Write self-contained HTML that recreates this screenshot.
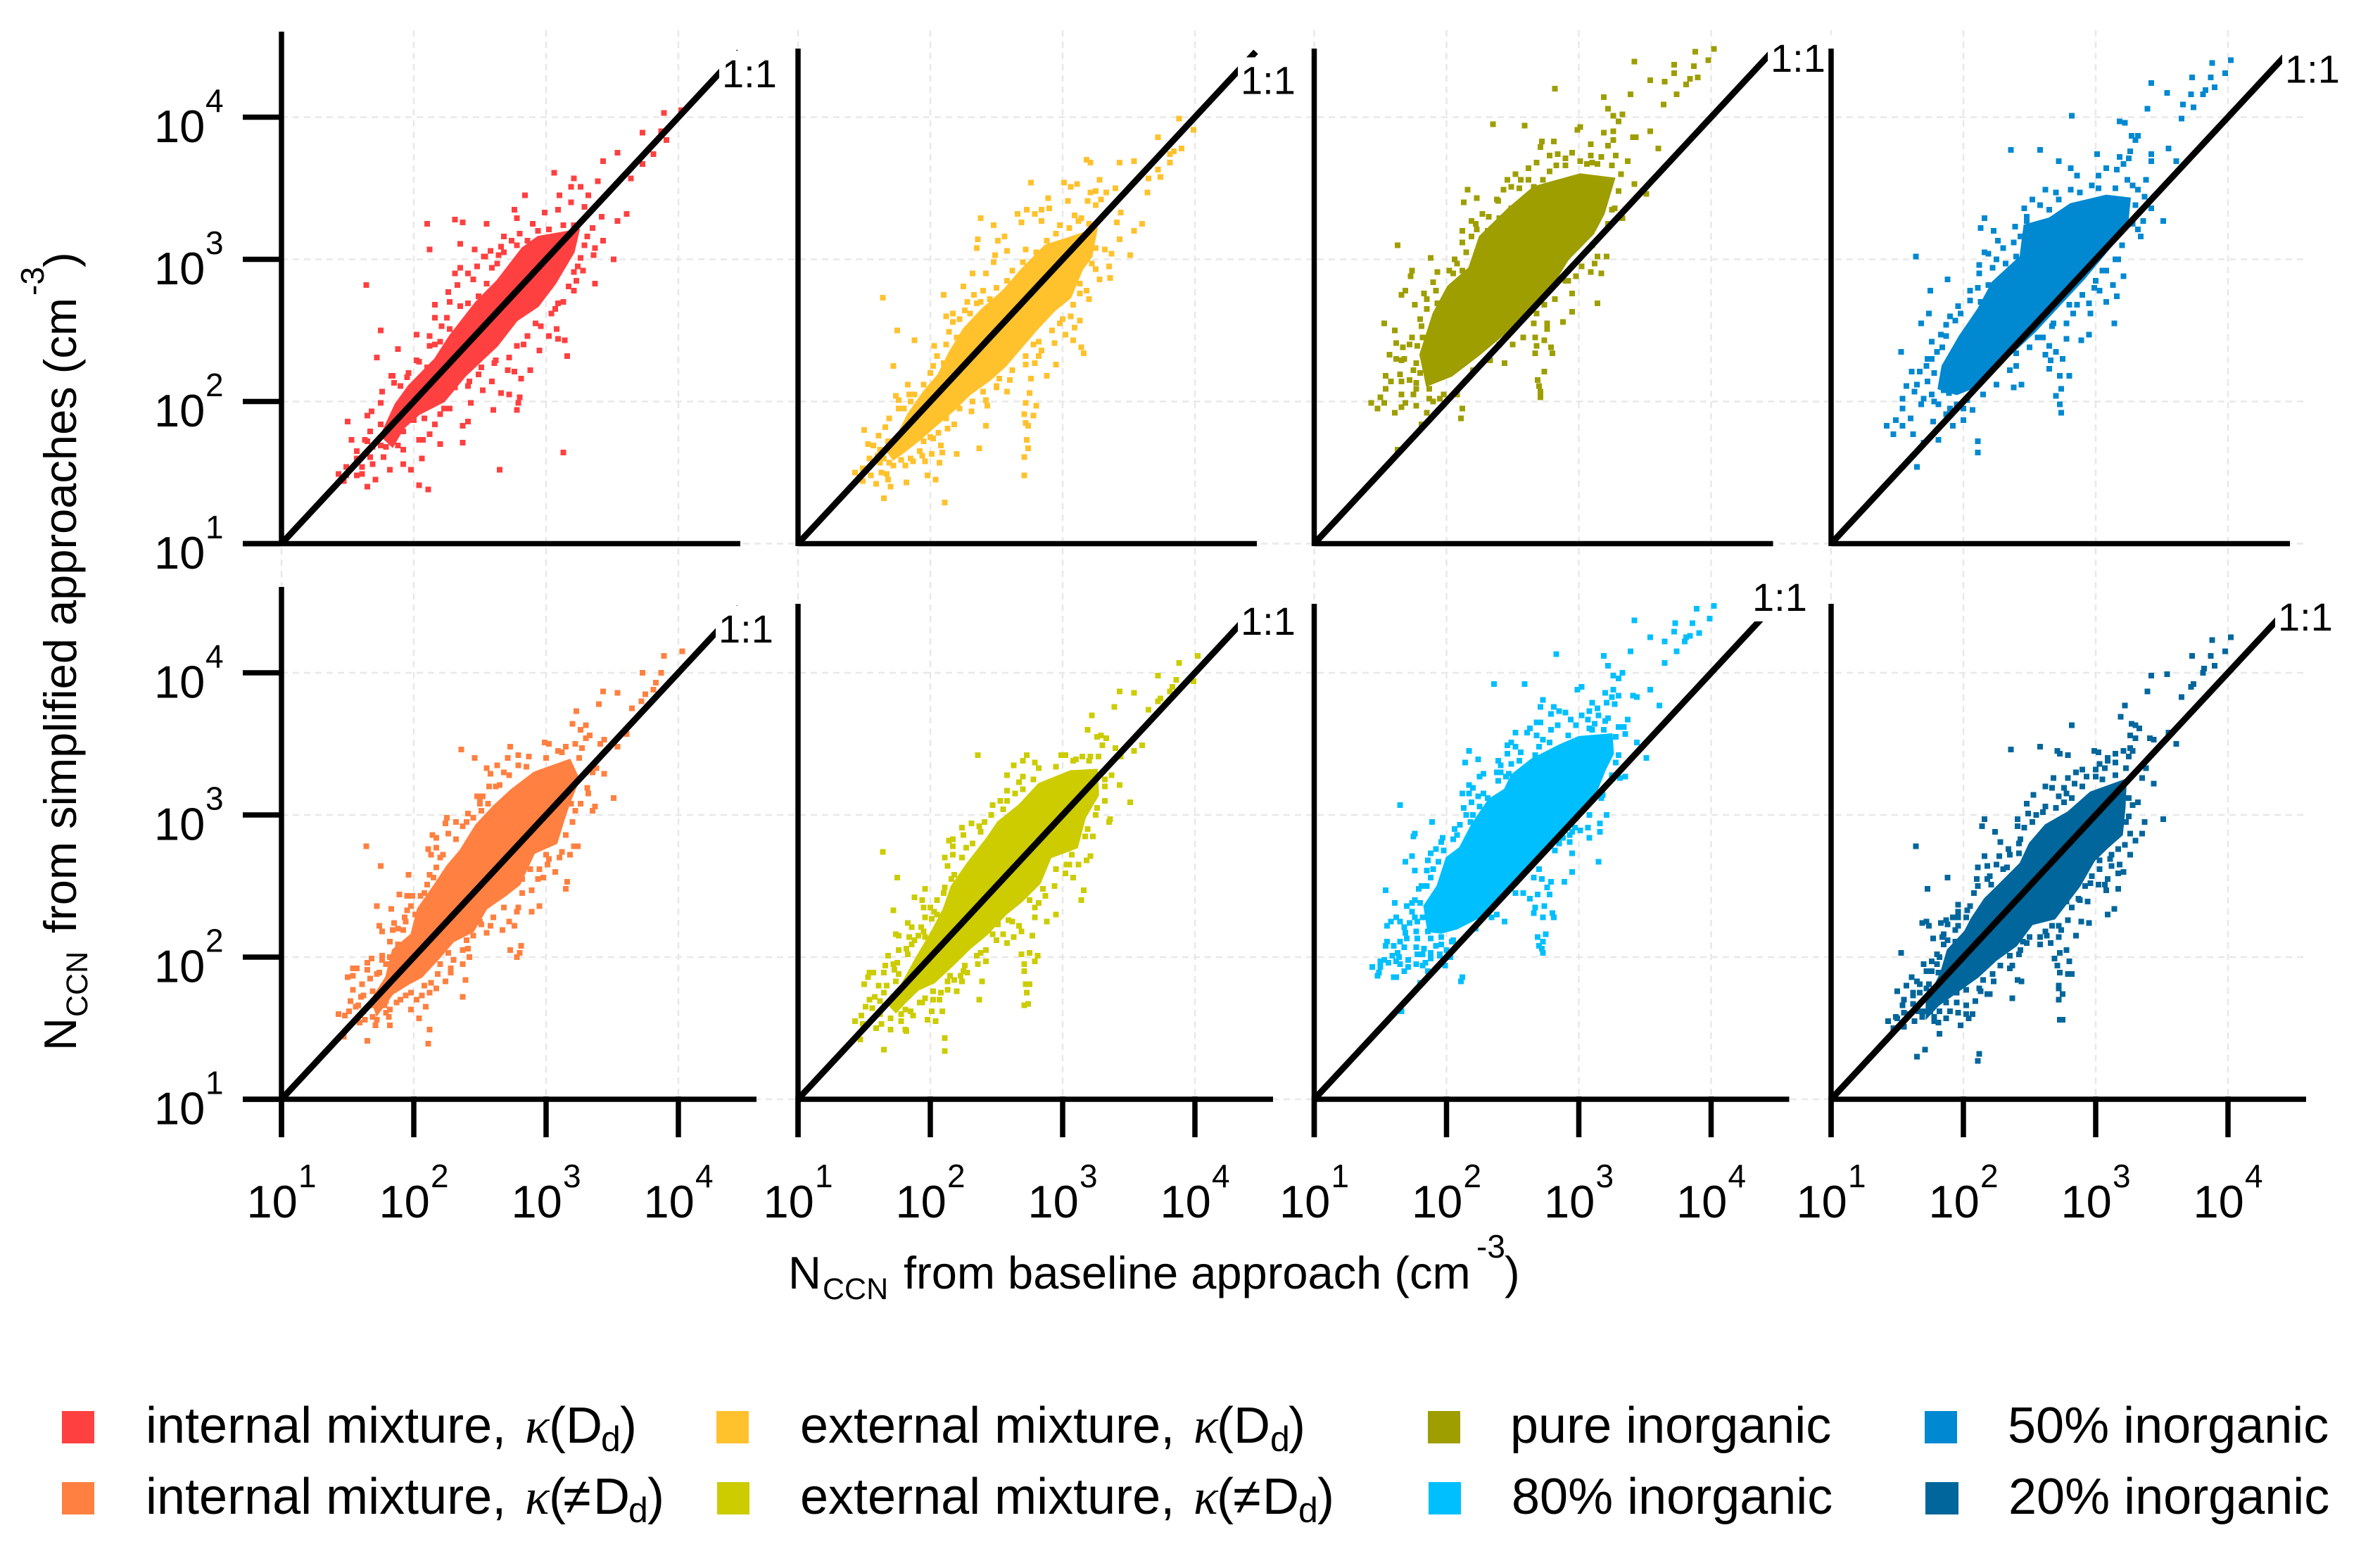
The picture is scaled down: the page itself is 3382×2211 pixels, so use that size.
<!DOCTYPE html>
<html lang="en">
<head>
<meta charset="utf-8">
<title>NCCN scatter comparison</title>
<style>
html,body{margin:0;padding:0;background:#fff}
svg{display:block}
text{font-family:"Liberation Sans",sans-serif;fill:#000}
.k{font-family:"Liberation Serif",serif;font-style:italic}
.t{font-size:65px}.s{font-size:43px}.u{font-size:46px}
.l{font-size:72px}.d{font-size:50px}
</style>
</head>
<body>
<svg id="chart" xmlns="http://www.w3.org/2000/svg" width="3382" height="2211" viewBox="0 0 3382 2211">
<rect width="3382" height="2211" fill="#fff"/>
<g id="grid"></g>
<g id="marks"></g>
<g id="axes"></g>
<g id="labels"></g>

<g>
<text class="t" x="1120" y="1831">N</text>
<text class="s" x="1169" y="1846">CCN</text>
<text class="t" x="1284" y="1831">from baseline approach (cm</text>
<text class="u" x="2098" y="1787">-3</text>
<text class="t" x="2138" y="1831">)</text>
</g>
<g transform="translate(108,1493) rotate(-90)">
<text class="t" x="0" y="0">N</text>
<text class="s" x="48" y="16">CCN</text>
<text class="t" x="167" y="0">from simplified approaches (cm</text>
<text class="u" x="1073" y="-46">-3</text>
<text class="t" x="1113" y="0">)</text>
</g>

<g>
<g>
<rect x="88" y="2005" width="46" height="46" fill="#FF4040"/>
<text class="l" x="207" y="2050">internal mixture,</text><text class="k" font-size="72" x="746" y="2050">κ</text>
<text class="l" x="780" y="2050">(D</text><text class="d" x="854" y="2062">d</text><text class="l" x="881" y="2050">)</text>
</g>
<g>
<rect x="88" y="2106" width="46" height="46" fill="#FF8040"/>
<text class="l" x="207" y="2151">internal mixture,</text><text class="k" font-size="72" x="746" y="2151">κ</text>
<text class="l" x="780" y="2151">(</text><text class="l" x="800" y="2151">≠</text><text class="l" x="843" y="2151">D</text><text class="d" x="893" y="2163">d</text><text class="l" x="920" y="2151">)</text>
</g>
<g>
<rect x="1018" y="2005" width="46" height="46" fill="#FFC22D"/>
<text class="l" x="1137" y="2050">external mixture,</text><text class="k" font-size="72" x="1696" y="2050">κ</text>
<text class="l" x="1729" y="2050">(D</text><text class="d" x="1805" y="2062">d</text><text class="l" x="1831" y="2050">)</text>
</g>
<g>
<rect x="1019" y="2106" width="46" height="46" fill="#CCCC00"/>
<text class="l" x="1137" y="2151">external mixture,</text><text class="k" font-size="72" x="1696" y="2151">κ</text>
<text class="l" x="1729" y="2151">(</text><text class="l" x="1752" y="2151">≠</text><text class="l" x="1794" y="2151">D</text><text class="d" x="1845" y="2163">d</text><text class="l" x="1872" y="2151">)</text>
</g>
<g>
<rect x="2029" y="2005" width="46" height="46" fill="#9E9E00"/>
<text class="l" x="2146" y="2050">pure inorganic</text>
</g>
<g>
<rect x="2030" y="2106" width="46" height="46" fill="#00BFFF"/>
<text class="l" x="2148" y="2151">80% inorganic</text>
</g>
<g>
<rect x="2735" y="2005" width="46" height="46" fill="#0088D1"/>
<text class="l" x="2853" y="2050">50% inorganic</text>
</g>
<g>
<rect x="2736" y="2106" width="47" height="46" fill="#00669C"/>
<text class="l" x="2854" y="2151">20% inorganic</text>
</g>
</g>
</svg>

<script>
// All values are log10(NCCN): [baseline, simplified]
const tickExponents = [1, 2, 3, 4];
const oneToOne = [1, 4.46];

const coreInternalDd = [[1.75,1.76],[1.86,1.98],[1.96,2.11],[2.16,2.30],[2.27,2.46],[2.47,2.70],[2.63,2.85],[2.82,3.08],[2.94,3.16],[3.25,3.21],[3.21,3.05],[3.07,2.83],[2.94,2.67],[2.78,2.57],[2.63,2.39],[2.39,2.18],[2.23,2.0],[2.04,1.91],[1.92,1.81],[1.84,1.68]];
const pointsInternalDd = [[4.02,4.05],[3.89,4.03],[3.73,3.89],[3.87,3.90],[3.91,3.84],[3.81,3.74],[3.54,3.75],[3.43,3.69],[3.73,3.67],[3.06,3.61],[3.64,3.57],[3.39,3.55],[3.21,3.57],[3.19,3.51],[3.26,3.51],[3.32,3.45],[2.84,3.45],[3.10,3.45],[3.19,3.40],[3.29,3.37],[3.61,3.32],[3.54,3.27],[3.42,3.30],[2.76,3.35],[2.99,3.33],[3.09,3.35],[2.10,3.25],[2.31,3.28],[2.37,3.26],[2.55,3.25],[2.78,3.29],[2.90,3.25],[3.35,3.22],[3.43,3.13],[3.37,3.08],[3.51,3.0],[3.36,3.03],[3.31,3.16],[2.80,3.18],[2.68,3.16],[2.78,3.10],[2.35,3.11],[2.12,3.07],[2.66,3.09],[2.46,3.07],[2.58,3.06],[2.64,3.03],[2.54,3.02],[2.48,2.95],[2.35,2.94],[3.26,3.01],[3.24,2.95],[3.28,2.92],[2.41,2.90],[2.31,2.90],[3.23,2.85],[3.37,2.83],[1.64,2.82],[2.33,2.82],[2.26,2.77],[3.21,2.78],[3.13,2.70],[2.16,2.68],[2.27,2.70],[3.07,2.65],[2.16,2.59],[2.25,2.59],[2.21,2.53],[2.96,2.53],[1.75,2.50],[2.02,2.47],[3.08,2.51],[3.02,2.46],[3.09,2.44],[3.14,2.43],[2.12,2.46],[2.16,2.40],[2.83,2.40],[2.95,2.36],[1.88,2.37],[1.72,2.31],[3.16,2.32],[2.02,2.29],[2.10,2.24],[2.71,2.22],[2.76,2.21],[2.88,2.22],[2.62,2.29],[2.49,2.19],[2.59,2.14],[2.81,2.16],[2.42,2.14],[1.83,2.18],[1.95,2.17],[1.85,2.13],[2.52,2.08],[2.66,2.06],[2.72,2.05],[2.80,2.03],[2.79,1.99],[1.76,2.07],[1.75,1.99],[2.43,1.99],[2.78,1.94],[2.60,1.94],[2.27,1.95],[1.68,1.93],[2.20,1.91],[1.65,1.90],[1.50,1.86],[2.41,1.86],[2.37,1.83],[2.16,1.84],[1.67,1.79],[2.12,1.77],[1.53,1.73],[1.65,1.72],[2.04,1.73],[2.07,1.73],[2.20,1.70],[2.37,1.71],[3.13,1.64],[1.57,1.65],[1.77,1.61],[1.92,1.66],[2.06,1.60],[1.43,1.49],[1.49,1.54],[1.61,1.54],[1.69,1.56],[1.92,1.56],[2.65,1.52],[1.82,1.52],[1.98,1.52],[1.49,1.48],[1.57,1.48],[1.71,1.45],[1.65,1.40],[2.04,1.41],[2.11,1.38],[1.47,1.44]];
const fringeInternalDd = [[1.84,2.18],[1.90,2.11],[1.96,2.20],[2.04,2.28],[2.12,2.39],[2.20,2.42],[2.27,2.51],[2.35,2.67],[2.41,2.69],[2.49,2.74],[2.55,2.83],[2.45,2.86],[2.59,2.94],[2.53,3.02],[2.63,2.97],[2.68,3.05],[2.74,3.13],[2.86,3.13],[2.94,3.20],[3.02,3.21],[3.13,3.24],[3.21,3.24],[1.92,1.79],[1.84,1.75],[1.79,1.68],[1.88,1.69],[2.0,1.87],[2.08,1.88],[2.23,1.95],[2.31,2.10],[2.41,2.11],[2.51,2.24],[2.61,2.27],[2.72,2.31],[2.78,2.39],[2.86,2.46],[2.92,2.55],[3.04,2.62],[3.09,2.69],[3.17,2.81],[3.21,2.91],[3.29,3.10],[1.63,1.73],[1.69,1.68],[1.75,1.69],[1.57,1.60],[1.67,1.61],[1.79,1.76],[1.84,1.86],[1.75,1.84],[1.61,1.49]];

const coreExternalDd = [[1.68,1.64],[1.74,1.74],[1.83,1.91],[1.95,2.07],[2.06,2.19],[2.14,2.34],[2.25,2.51],[2.39,2.65],[2.55,2.78],[2.69,2.93],[2.87,3.10],[3.04,3.15],[3.26,3.22],[3.22,3.02],[3.15,2.93],[3.06,2.73],[2.94,2.64],[2.80,2.50],[2.67,2.36],[2.57,2.25],[2.45,2.15],[2.30,2.05],[2.18,1.94],[2.03,1.82],[1.92,1.73],[1.81,1.65],[1.72,1.59]];
const pointsExternalDd = [[3.88,3.99],[3.72,3.86],[3.99,3.91],[3.90,3.78],[3.81,3.74],[3.84,3.76],[3.81,3.68],[3.72,3.63],[3.74,3.58],[3.65,3.57],[3.64,3.47],[3.18,3.70],[3.21,3.68],[3.43,3.68],[3.54,3.69],[2.76,3.54],[3.28,3.56],[3.01,3.54],[3.11,3.53],[3.06,3.51],[3.21,3.47],[3.25,3.48],[3.33,3.47],[3.40,3.50],[2.89,3.43],[3.04,3.41],[3.19,3.41],[3.29,3.42],[3.25,3.38],[2.90,3.36],[2.84,3.35],[2.73,3.35],[2.66,3.32],[2.79,3.32],[3.44,3.33],[3.60,3.25],[3.54,3.20],[2.38,3.29],[2.48,3.24],[2.69,3.26],[2.84,3.27],[3.41,3.26],[3.09,3.31],[3.14,3.29],[2.98,3.24],[3.43,3.14],[2.36,3.14],[2.56,3.16],[2.51,3.13],[2.35,3.08],[3.51,3.03],[3.37,3.04],[3.32,3.07],[3.35,2.95],[3.36,2.87],[3.25,2.93],[3.28,2.86],[2.49,3.03],[2.58,3.06],[2.48,2.98],[2.32,2.90],[2.42,2.90],[1.64,2.73],[2.10,2.75],[2.25,2.81],[2.40,2.78],[2.33,2.75],[2.28,2.70],[2.35,2.69],[2.17,2.62],[2.12,2.60],[2.17,2.56],[2.26,2.64],[1.75,2.50],[1.88,2.43],[2.14,2.49],[2.03,2.39],[2.05,2.32],[1.72,2.25],[2.02,2.25],[1.83,2.12],[1.74,2.04],[1.84,2.05],[1.76,2.01],[1.76,1.95],[3.20,2.72],[3.18,2.78],[3.13,2.83],[3.13,2.57],[3.09,2.52],[3.08,2.43],[3.14,2.38],[3.16,2.34],[3.02,2.47],[2.94,2.41],[2.98,2.55],[3.06,2.60],[2.84,2.36],[2.78,2.40],[2.82,2.32],[2.95,2.26],[2.88,2.18],[2.79,2.27],[2.72,2.26],[2.76,2.16],[2.60,2.15],[2.52,2.16],[2.58,2.07],[2.50,2.11],[2.75,2.06],[2.80,1.97],[2.72,1.99],[2.71,1.91],[2.72,1.85],[2.78,1.90],[2.74,1.83],[2.73,1.73],[2.74,1.67],[2.71,1.61],[2.71,1.48],[2.42,2.01],[2.43,1.97],[2.42,1.83],[2.37,1.67],[2.31,1.93],[2.18,1.84],[2.13,1.81],[2.06,1.78],[2.02,1.74],[1.95,1.72],[2.08,1.69],[2.20,1.63],[2.09,1.64],[2.01,1.63],[2.07,1.57],[1.96,1.58],[1.87,1.58],[1.81,1.55],[1.94,1.62],[1.98,1.48],[2.04,1.45],[1.82,1.43],[2.11,1.29],[1.65,1.32],[1.70,1.40],[1.59,1.42],[1.68,1.45],[1.49,1.44],[1.43,1.50],[1.63,1.50],[1.67,1.49],[1.55,1.48],[1.49,1.53],[1.62,1.57],[1.54,1.60],[1.69,1.57],[1.78,1.59],[1.53,1.70],[1.57,1.69],[1.61,1.76],[1.50,1.80],[1.66,1.82],[1.69,1.88],[1.77,1.68]];
const fringeExternalDd = [[2.10,2.27],[2.12,2.40],[2.20,2.45],[2.22,2.58],[2.30,2.62],[2.38,2.70],[2.45,2.72],[2.50,2.80],[2.58,2.85],[2.62,2.92],[2.70,2.98],[2.72,3.07],[2.80,3.05],[2.88,3.13],[2.95,3.18],[3.05,3.22],[3.12,3.27],[3.20,3.25],[1.95,2.12],[2.0,2.20],[1.88,2.05],[1.80,1.95],[1.85,2.0],[1.85,1.60],[1.92,1.65],[2.0,1.75],[2.12,1.88],[2.22,1.95],[2.32,2.0],[2.40,2.07],[2.50,2.10],[2.62,2.22],[2.72,2.32],[2.82,2.42],[2.92,2.50],[3.0,2.58],[3.08,2.68],[3.13,2.76],[3.22,2.97],[3.25,3.08],[1.60,1.62],[1.65,1.60],[1.72,1.55],[1.72,1.72],[1.68,1.72],[1.62,1.66]];

const corePureInorganic = [[1.85,2.11],[1.80,2.33],[1.90,2.62],[2.01,2.81],[2.17,2.94],[2.25,3.16],[2.47,3.36],[2.66,3.51],[3.01,3.60],[3.27,3.57],[3.19,3.32],[3.11,3.18],[2.92,3.00],[2.76,2.76],[2.52,2.54],[2.25,2.33],[2.04,2.18]];
const pointsPureInorganic = [[4.02,4.48],[3.88,4.46],[3.98,4.40],[3.42,4.39],[3.72,4.37],[3.87,4.36],[3.72,4.31],[3.90,4.28],[3.54,4.26],[3.65,4.25],[3.84,4.27],[3.81,4.23],[2.82,4.20],[3.74,4.16],[3.39,4.16],[3.19,4.14],[3.64,4.09],[3.22,4.06],[3.33,4.02],[3.26,4.01],[3.30,3.97],[2.35,3.95],[2.59,3.94],[2.99,3.91],[3.01,3.93],[3.54,3.90],[3.19,3.89],[3.41,3.86],[3.43,3.86],[3.26,3.90],[3.60,3.78],[2.72,3.83],[2.81,3.83],[3.26,3.84],[3.22,3.80],[3.09,3.81],[2.71,3.79],[2.84,3.74],[2.78,3.73],[2.95,3.75],[3.09,3.73],[3.17,3.72],[3.37,3.69],[3.28,3.73],[2.90,3.71],[3.01,3.69],[3.06,3.67],[2.68,3.68],[2.83,3.66],[3.14,3.67],[2.62,3.64],[2.52,3.60],[2.73,3.56],[2.46,3.56],[2.56,3.56],[3.42,3.53],[2.16,3.49],[2.23,3.43],[2.49,3.51],[2.43,3.49],[2.39,3.41],[2.66,3.51],[3.51,3.46],[2.13,3.40],[2.27,3.32],[2.19,3.27],[2.40,3.29],[2.49,3.36],[3.33,3.29],[3.27,3.36],[2.12,3.20],[2.23,3.21],[2.31,3.20],[2.19,3.16],[2.12,3.12],[1.63,3.10],[2.25,3.10],[3.21,3.02],[3.14,3.02],[1.88,3.01],[2.06,3.0],[2.08,2.97],[3.12,2.97],[1.74,2.92],[3.17,2.90],[3.09,2.91],[1.73,2.88],[1.93,2.91],[2.05,2.90],[2.98,2.88],[2.92,2.85],[1.69,2.78],[1.83,2.76],[1.90,2.84],[2.95,2.76],[1.66,2.75],[3.14,2.69],[1.76,2.68],[1.85,2.65],[1.93,2.69],[2.95,2.63],[2.74,2.68],[1.53,2.55],[1.80,2.58],[2.88,2.56],[2.76,2.55],[2.76,2.51],[2.66,2.55],[1.61,2.50],[1.81,2.53],[1.74,2.45],[2.67,2.45],[2.74,2.43],[2.58,2.45],[1.62,2.41],[2.79,2.38],[2.68,2.39],[1.78,2.39],[1.67,2.38],[1.57,2.33],[2.67,2.34],[2.80,2.34],[1.66,2.29],[1.62,2.30],[2.33,2.29],[2.44,2.27],[1.77,2.27],[1.75,2.22],[2.74,2.21],[1.80,2.20],[1.65,2.19],[1.89,2.15],[2.69,2.15],[1.96,2.17],[1.54,2.18],[1.58,2.14],[1.66,2.14],[1.77,2.13],[2.70,2.11],[2.71,2.07],[2.71,2.03],[1.54,2.09],[1.77,2.09],[1.87,2.09],[1.50,2.03],[1.66,2.05],[1.87,2.02],[1.95,2.02],[1.43,1.99],[1.53,1.99],[1.69,1.99],[1.48,1.95],[1.66,1.96],[1.77,1.97],[2.12,1.95],[1.61,1.92],[1.85,1.92],[2.11,1.88],[1.81,1.84],[1.63,1.66]];
const fringePureInorganic = [[1.82,2.45],[1.85,2.72],[1.95,2.62],[1.92,2.78],[2.02,2.92],[2.12,2.92],[2.15,3.05],[2.22,3.25],[2.32,3.30],[2.38,3.42],[2.55,3.50],[2.62,3.56],[2.78,3.62],[2.90,3.66],[3.10,3.68],[3.25,3.66],[3.32,3.60],[3.30,3.48],[3.25,3.35],[3.22,3.25],[3.10,3.10],[3.02,2.95],[2.90,2.85],[2.82,2.72],[2.68,2.62],[2.50,2.40],[2.40,2.40],[2.20,2.22],[2.08,2.05],[1.98,2.05],[1.90,2.0],[1.75,2.05],[1.72,2.15],[1.68,2.30],[1.72,2.40]];

const core50Inorganic = [[1.81,2.09],[1.84,2.25],[1.97,2.46],[2.11,2.65],[2.22,2.84],[2.43,3.02],[2.46,3.24],[2.65,3.29],[2.81,3.39],[3.08,3.45],[3.26,3.43],[3.24,3.24],[3.08,3.05],[2.91,2.86],[2.73,2.68],[2.54,2.49],[2.32,2.30],[2.11,2.11],[1.95,2.05]];
const points50Inorganic = [[4.02,4.40],[3.88,4.38],[3.98,4.31],[3.42,4.24],[3.73,4.28],[3.87,4.28],[3.90,4.21],[3.83,4.19],[3.72,4.16],[3.81,4.16],[3.54,4.17],[3.66,4.09],[3.74,4.07],[3.39,4.06],[3.65,3.99],[2.82,4.01],[3.18,3.97],[3.22,3.96],[3.27,3.87],[3.32,3.87],[3.30,3.84],[2.36,3.77],[2.58,3.77],[3.01,3.74],[3.55,3.78],[3.42,3.74],[3.26,3.76],[3.18,3.72],[3.61,3.69],[2.72,3.69],[3.25,3.71],[2.81,3.64],[2.86,3.59],[3.08,3.64],[3.21,3.67],[3.42,3.69],[3.16,3.63],[3.02,3.59],[3.24,3.56],[3.38,3.56],[2.62,3.49],[2.70,3.47],[2.81,3.49],[2.97,3.52],[3.32,3.49],[2.52,3.42],[2.46,3.36],[2.65,3.35],[3.37,3.44],[2.16,3.29],[2.13,3.22],[2.48,3.27],[3.42,3.36],[3.51,3.27],[3.36,3.27],[2.23,3.20],[2.26,3.13],[2.39,3.23],[3.32,3.21],[2.43,3.16],[3.34,3.16],[2.16,3.05],[2.19,3.04],[2.40,3.02],[1.64,3.02],[3.17,3.0],[2.12,2.96],[2.22,2.94],[2.32,2.97],[3.08,2.92],[3.21,2.88],[1.88,2.86],[2.11,2.80],[3.13,2.82],[2.99,2.80],[2.19,2.82],[1.75,2.78],[3.03,2.78],[3.16,2.74],[3.08,2.70],[2.95,2.69],[2.86,2.68],[2.05,2.71],[1.96,2.67],[2.13,2.70],[2.83,2.62],[2.96,2.62],[1.74,2.62],[1.68,2.55],[1.87,2.54],[1.94,2.57],[2.78,2.55],[3.14,2.55],[1.83,2.47],[2.67,2.53],[2.95,2.47],[2.78,2.44],[2.89,2.43],[2.56,2.45],[1.76,2.42],[1.87,2.46],[1.53,2.35],[2.65,2.39],[2.70,2.35],[1.84,2.38],[1.76,2.30],[2.40,2.34],[2.62,2.33],[2.75,2.30],[2.66,2.29],[2.65,2.23],[2.35,2.22],[2.44,2.12],[2.80,2.18],[2.73,2.18],[2.38,2.10],[1.61,2.21],[1.67,2.21],[1.73,2.14],[2.74,2.09],[2.70,2.04],[2.73,1.98],[2.74,1.92],[1.57,2.11],[1.63,2.07],[1.54,2.02],[1.76,2.05],[1.89,2.06],[2.03,2.01],[1.68,1.98],[1.54,1.95],[1.81,1.98],[1.95,1.98],[2.07,1.94],[1.49,1.87],[1.60,1.88],[1.77,1.86],[2.0,1.87],[1.42,1.83],[1.54,1.83],[1.92,1.83],[1.47,1.77],[1.62,1.77],[1.70,1.71],[1.81,1.73],[2.11,1.72],[2.11,1.64],[1.65,1.54],[1.87,1.91]];
const fringe50Inorganic = [[1.73,2.30],[1.80,2.35],[1.78,2.20],[1.72,2.25],[1.90,2.60],[1.98,2.62],[2.05,2.78],[2.12,2.90],[2.25,3.0],[2.30,3.08],[2.38,3.12],[2.48,3.30],[2.58,3.38],[2.72,3.42],[2.88,3.47],[3.02,3.50],[3.15,3.50],[3.28,3.52],[3.30,3.38],[3.28,3.25],[3.20,3.10],[3.15,3.0],[3.05,2.92],[3.0,2.85],[2.90,2.75],[2.80,2.68],[2.68,2.55],[2.60,2.45],[2.50,2.38],[2.40,2.25],[2.25,2.12],[2.15,2.05],[2.0,1.95],[1.90,1.95],[1.78,2.0],[1.70,2.02],[1.85,2.08],[1.65,2.12]];

const coreInternalNotDd = [[1.68,1.70],[1.79,1.86],[1.84,2.05],[1.98,2.16],[2.03,2.34],[2.15,2.50],[2.25,2.64],[2.35,2.75],[2.47,2.93],[2.60,3.06],[2.74,3.18],[2.91,3.30],[3.18,3.39],[3.25,3.25],[3.18,3.09],[3.14,2.98],[3.08,2.80],[2.91,2.73],[2.80,2.51],[2.69,2.43],[2.55,2.34],[2.45,2.18],[2.30,2.11],[2.18,1.98],[2.06,1.86],[1.96,1.81],[1.84,1.74],[1.72,1.59]];
const pointsInternalNotDd = [[4.03,4.15],[3.89,4.12],[3.73,4.0],[3.87,4.0],[3.83,3.93],[3.81,3.88],[3.75,3.85],[3.43,3.87],[3.54,3.86],[3.72,3.80],[3.65,3.75],[3.40,3.78],[3.23,3.73],[3.20,3.64],[3.26,3.60],[3.30,3.63],[3.33,3.56],[3.30,3.54],[3.44,3.53],[3.41,3.50],[3.61,3.57],[3.54,3.48],[2.36,3.46],[2.46,3.40],[2.73,3.48],[2.79,3.42],[2.71,3.40],[2.87,3.41],[2.99,3.51],[3.02,3.50],[3.15,3.48],[3.22,3.50],[3.27,3.47],[3.09,3.45],[2.55,3.33],[2.63,3.35],[2.68,3.30],[2.79,3.35],[2.58,3.29],[2.57,3.20],[2.65,3.21],[3.44,3.29],[3.38,3.33],[3.35,3.30],[3.31,3.19],[3.32,3.15],[3.51,3.12],[3.37,3.06],[3.35,3.03],[3.26,3.08],[3.19,3.08],[2.48,3.13],[2.52,3.13],[2.50,3.08],[2.56,3.08],[2.51,3.03],[2.41,3.01],[2.25,2.98],[2.32,2.95],[2.45,2.98],[2.24,2.94],[2.37,2.92],[2.14,2.86],[2.17,2.84],[2.26,2.87],[3.20,2.95],[3.21,2.78],[3.24,2.78],[3.18,2.72],[3.12,2.74],[1.64,2.78],[2.11,2.76],[2.17,2.77],[2.13,2.72],[1.75,2.64],[1.96,2.58],[2.17,2.63],[2.20,2.70],[2.15,2.56],[3.02,2.69],[3.01,2.65],[2.95,2.62],[3.07,2.60],[2.98,2.56],[3.16,2.53],[3.15,2.48],[2.94,2.55],[2.89,2.47],[2.82,2.45],[2.10,2.51],[2.05,2.43],[1.89,2.44],[1.95,2.43],[1.99,2.43],[2.95,2.36],[2.89,2.32],[2.79,2.35],[2.78,2.32],[1.72,2.36],[1.83,2.34],[1.95,2.33],[2.01,2.30],[1.94,2.25],[1.85,2.24],[1.74,2.22],[1.76,2.18],[1.84,2.19],[1.92,2.19],[2.72,2.25],[2.76,2.22],[2.67,2.19],[2.58,2.22],[2.55,2.17],[2.51,2.23],[2.45,2.15],[1.82,2.11],[1.88,2.09],[2.81,2.08],[2.73,2.05],[2.80,2.03],[2.78,2.0],[2.41,2.06],[2.37,2.05],[2.42,2.0],[2.26,2.03],[1.76,2.01],[1.68,1.99],[1.65,1.96],[2.37,1.95],[1.57,1.92],[1.54,1.92],[1.65,1.91],[1.79,1.95],[1.74,1.89],[2.28,1.92],[2.28,1.89],[2.18,1.88],[1.50,1.86],[1.54,1.87],[1.67,1.85],[1.61,1.81],[2.39,1.84],[2.24,1.83],[2.13,1.82],[2.17,1.78],[1.54,1.77],[1.62,1.73],[1.69,1.76],[2.06,1.73],[2.12,1.75],[2.37,1.72],[2.02,1.70],[1.94,1.73],[1.87,1.68],[1.79,1.69],[1.52,1.69],[2.09,1.65],[1.98,1.63],[1.82,1.63],[1.79,1.61],[1.56,1.65],[1.51,1.62],[1.43,1.60],[1.48,1.59],[1.81,1.58],[2.04,1.57],[1.69,1.58],[1.63,1.56],[1.59,1.54],[1.71,1.52],[1.82,1.52],[2.12,1.49],[2.11,1.39],[1.65,1.41],[1.47,1.44]];
const fringeInternalNotDd = [[1.72,1.88],[1.76,1.98],[1.82,2.0],[1.88,2.20],[1.93,2.28],[1.98,2.36],[2.08,2.45],[2.12,2.58],[2.22,2.72],[2.32,2.83],[2.40,2.95],[2.50,3.12],[2.62,3.20],[2.72,3.28],[2.85,3.34],[3.0,3.40],[3.12,3.44],[3.25,3.40],[3.30,3.30],[3.22,3.03],[3.15,2.86],[3.10,2.70],[3.0,2.72],[2.88,2.62],[2.82,2.55],[2.68,2.35],[2.60,2.28],[2.50,2.25],[2.40,2.12],[2.30,1.98],[2.20,1.95],[2.08,1.80],[1.98,1.75],[1.90,1.70],[1.78,1.66],[1.72,1.56],[1.62,1.62],[1.60,1.72],[1.68,1.66],[1.58,1.66]];

const coreExternalNotDd = [[1.69,1.66],[1.79,1.82],[1.89,1.99],[2.01,2.18],[2.10,2.34],[2.16,2.50],[2.28,2.66],[2.43,2.84],[2.51,2.95],[2.67,3.07],[2.82,3.22],[3.06,3.31],[3.26,3.32],[3.27,3.14],[3.17,2.98],[3.11,2.77],[2.91,2.70],[2.83,2.52],[2.69,2.39],[2.57,2.30],[2.43,2.16],[2.30,2.06],[2.18,1.95],[2.03,1.82],[1.91,1.77],[1.81,1.68],[1.74,1.61]];
const pointsExternalNotDd = [[4.02,4.12],[3.88,4.07],[3.72,3.98],[3.86,3.95],[3.99,3.94],[3.83,3.90],[3.81,3.87],[3.43,3.87],[3.54,3.86],[3.74,3.82],[3.72,3.80],[3.65,3.74],[3.39,3.76],[3.22,3.70],[3.19,3.60],[3.29,3.56],[3.26,3.55],[3.33,3.54],[3.30,3.49],[3.60,3.49],[3.40,3.47],[3.54,3.45],[3.44,3.41],[2.36,3.42],[2.73,3.42],[2.99,3.42],[3.02,3.42],[3.15,3.41],[3.21,3.41],[3.27,3.41],[2.70,3.38],[2.79,3.37],[2.63,3.35],[3.10,3.39],[2.82,3.33],[2.58,3.28],[2.70,3.27],[2.67,3.23],[3.37,3.28],[3.32,3.25],[3.43,3.21],[3.51,3.09],[3.32,3.10],[3.26,3.05],[2.58,3.17],[2.64,3.15],[2.53,3.10],[2.47,3.07],[2.55,3.04],[3.36,2.97],[3.35,2.95],[2.31,2.94],[2.41,2.95],[2.24,2.91],[2.37,2.92],[3.19,2.90],[3.23,2.85],[2.14,2.82],[2.17,2.83],[2.17,2.78],[2.25,2.86],[2.27,2.77],[1.64,2.74],[2.17,2.72],[2.11,2.70],[2.13,2.64],[3.21,2.71],[3.18,2.68],[3.12,2.65],[3.07,2.72],[3.03,2.65],[3.02,2.59],[3.08,2.56],[1.75,2.56],[2.16,2.55],[3.16,2.47],[3.14,2.40],[2.94,2.50],[2.11,2.49],[1.96,2.48],[1.88,2.42],[2.05,2.40],[1.94,2.40],[2.87,2.43],[2.82,2.38],[2.79,2.35],[2.95,2.30],[2.79,2.28],[2.88,2.25],[1.72,2.33],[1.95,2.35],[2.03,2.32],[1.96,2.28],[2.01,2.27],[1.83,2.24],[1.86,2.21],[1.93,2.21],[1.95,2.18],[1.74,2.16],[1.76,2.15],[1.84,2.14],[1.91,2.15],[1.86,2.09],[1.76,2.05],[1.82,2.06],[1.68,2.01],[1.66,1.94],[1.75,1.96],[1.65,1.89],[1.57,1.89],[1.54,1.89],[1.53,1.86],[1.73,1.91],[1.50,1.81],[1.61,1.80],[1.67,1.80],[1.74,1.83],[1.54,1.70],[1.62,1.69],[1.51,1.65],[1.56,1.64],[1.48,1.59],[1.43,1.55],[1.49,1.53],[1.59,1.50],[1.63,1.53],[1.70,1.57],[1.70,1.49],[1.81,1.49],[1.82,1.48],[1.47,1.42],[1.65,1.35],[2.11,1.43],[2.11,1.34],[1.98,1.56],[2.04,1.55],[1.87,1.59],[1.78,1.60],[1.81,1.63],[2.01,1.62],[2.09,1.62],[1.94,1.68],[2.07,1.70],[2.37,1.70],[1.96,1.71],[2.08,1.75],[2.13,1.77],[2.20,1.76],[2.02,1.76],[2.24,1.83],[2.39,1.83],[2.13,1.83],[2.18,1.84],[2.23,1.87],[2.28,1.89],[2.36,1.95],[2.42,1.97],[2.26,1.94],[2.35,2.01],[2.42,2.05],[2.58,2.10],[2.55,2.16],[2.47,2.16],[2.63,2.14],[2.77,2.15],[2.69,2.18],[2.67,2.22],[2.59,2.26],[2.51,2.23],[2.69,2.02],[2.75,2.03],[2.81,2.01],[2.79,1.97],[2.71,1.95],[2.71,1.90],[2.72,1.81],[2.75,1.81],[2.73,1.75],[2.74,1.67],[2.71,1.66]];
const fringeExternalNotDd = [[1.72,1.95],[1.76,1.88],[1.83,2.02],[1.88,2.12],[1.96,2.14],[2.0,2.35],[2.05,2.30],[2.10,2.45],[2.18,2.58],[2.24,2.70],[2.32,2.80],[2.38,2.88],[2.46,3.0],[2.58,3.10],[2.70,3.18],[2.78,3.25],[2.95,3.34],[3.08,3.38],[3.2,3.38],[3.32,3.2],[3.25,3.0],[3.17,2.85],[3.05,2.65],[2.95,2.62],[2.85,2.48],[2.75,2.40],[2.62,2.25],[2.50,2.12],[2.38,2.03],[2.25,1.90],[2.15,1.87],[2.02,1.70],[1.92,1.68],[1.85,1.62],[1.78,1.55],[1.62,1.60],[1.65,1.75],[1.72,1.72],[1.58,1.72]];

const core80Inorganic = [[1.86,2.18],[1.83,2.36],[1.93,2.50],[2.0,2.70],[2.10,2.77],[2.19,2.93],[2.32,3.11],[2.44,3.18],[2.49,3.28],[2.64,3.39],[2.85,3.49],[3.0,3.55],[3.25,3.57],[3.26,3.43],[3.20,3.32],[3.14,3.18],[3.0,3.02],[2.88,2.89],[2.74,2.73],[2.54,2.55],[2.35,2.36],[2.25,2.28],[2.08,2.20],[1.96,2.17]];
const points80Inorganic = [[4.02,4.47],[3.89,4.45],[3.99,4.38],[3.42,4.37],[3.73,4.35],[3.86,4.35],[3.72,4.29],[3.91,4.28],[3.84,4.26],[3.81,4.25],[3.54,4.25],[3.65,4.22],[3.80,4.22],[3.74,4.15],[2.83,4.13],[3.39,4.15],[3.19,4.12],[3.65,4.07],[3.22,4.05],[3.33,4.0],[3.26,3.98],[3.30,3.96],[2.36,3.92],[2.59,3.92],[3.02,3.90],[2.99,3.88],[3.26,3.88],[3.54,3.88],[3.20,3.86],[3.30,3.84],[3.41,3.84],[3.44,3.83],[3.25,3.83],[2.73,3.81],[3.21,3.79],[3.27,3.78],[3.10,3.79],[3.61,3.77],[2.71,3.76],[2.81,3.76],[3.14,3.75],[3.08,3.73],[2.85,3.73],[2.79,3.71],[2.90,3.72],[3.15,3.70],[3.02,3.70],[2.94,3.67],[3.07,3.67],[3.22,3.68],[3.37,3.67],[3.12,3.64],[3.20,3.66],[2.68,3.65],[2.71,3.65],[2.84,3.63],[2.98,3.63],[3.30,3.62],[3.34,3.62],[2.63,3.61],[2.79,3.60],[3.19,3.60],[3.08,3.61],[2.61,3.58],[2.52,3.58],[3.35,3.57],[2.68,3.56],[2.73,3.53],[3.44,3.51],[2.49,3.51],[2.46,3.49],[2.78,3.51],[2.17,3.45],[2.52,3.48],[2.56,3.44],[2.46,3.43],[2.67,3.42],[3.51,3.40],[2.39,3.38],[2.24,3.39],[2.14,3.37],[2.41,3.35],[2.49,3.36],[3.28,3.37],[2.28,3.29],[2.25,3.27],[2.41,3.30],[2.47,3.29],[2.45,3.27],[3.35,3.27],[2.39,3.24],[3.31,3.26],[2.17,3.21],[2.20,3.19],[2.12,3.15],[2.17,3.15],[3.17,3.12],[2.24,3.13],[2.31,3.12],[2.19,3.09],[2.13,3.05],[2.25,3.06],[1.65,3.07],[3.21,3.0],[2.20,3.0],[1.89,2.95],[2.10,2.93],[3.16,2.94],[2.18,2.95],[1.76,2.87],[1.75,2.85],[3.16,2.88],[3.07,2.91],[3.01,2.89],[2.97,2.91],[3.08,2.84],[2.08,2.86],[2.05,2.83],[1.97,2.84],[1.96,2.81],[2.93,2.86],[2.93,2.81],[2.88,2.84],[2.85,2.80],[1.92,2.76],[2.95,2.73],[1.88,2.73],[1.74,2.71],[1.69,2.67],[1.86,2.68],[1.94,2.67],[3.15,2.67],[2.95,2.60],[1.76,2.61],[1.85,2.61],[1.88,2.56],[2.89,2.53],[2.79,2.53],[2.72,2.55],[2.66,2.56],[1.54,2.47],[1.81,2.50],[1.79,2.48],[2.76,2.49],[2.78,2.44],[2.58,2.45],[2.69,2.44],[2.63,2.41],[1.76,2.40],[1.61,2.38],[1.70,2.36],[1.74,2.38],[2.74,2.36],[2.67,2.35],[1.74,2.32],[2.80,2.31],[2.81,2.28],[2.66,2.31],[2.73,2.28],[1.62,2.28],[1.76,2.28],[1.82,2.28],[1.58,2.25],[1.65,2.25],[2.44,2.25],[2.34,2.28],[1.72,2.24],[1.55,2.22],[1.68,2.21],[1.69,2.17],[1.77,2.18],[1.86,2.18],[2.75,2.16],[2.69,2.14],[2.73,2.11],[2.70,2.08],[2.72,2.06],[2.73,2.03],[1.55,2.11],[1.65,2.11],[1.70,2.13],[1.78,2.13],[1.88,2.13],[1.96,2.14],[2.04,2.11],[1.54,2.08],[1.60,2.08],[1.68,2.07],[1.77,2.07],[1.96,2.09],[1.83,2.06],[1.82,2.02],[1.88,2.03],[1.63,2.03],[1.59,2.01],[1.95,2.01],[2.03,2.0],[1.64,2.0],[1.53,1.98],[1.50,1.97],[1.56,1.96],[1.71,1.98],[1.62,1.97],[1.65,1.95],[1.77,1.95],[1.84,1.96],[1.88,1.99],[1.99,1.94],[1.44,1.93],[1.50,1.93],[1.71,1.93],[1.82,1.94],[1.68,1.90],[1.86,1.90],[1.49,1.89],[1.48,1.87],[1.60,1.86],[1.62,1.86],[2.12,1.86],[2.11,1.83],[1.80,1.82],[1.66,1.62]];
const fringe80Inorganic = [[1.78,2.25],[1.80,2.38],[1.85,2.50],[1.90,2.62],[1.98,2.75],[2.06,2.90],[2.15,3.0],[2.28,3.15],[2.38,3.30],[2.55,3.38],[2.70,3.48],[2.92,3.56],[3.1,3.6],[3.28,3.55],[3.3,3.42],[3.25,3.28],[3.18,3.14],[3.08,3.0],[2.95,2.88],[2.82,2.75],[2.70,2.62],[2.52,2.45],[2.38,2.30],[2.22,2.20],[2.05,2.12],[1.92,2.08],[1.78,2.02],[1.95,2.02],[2.0,2.05]];

const core20Inorganic = [[1.72,1.68],[1.83,1.89],[1.88,2.05],[2.01,2.18],[2.06,2.27],[2.16,2.41],[2.28,2.52],[2.43,2.66],[2.50,2.80],[2.62,2.93],[2.79,3.02],[2.96,3.16],[3.23,3.25],[3.22,3.05],[3.20,2.86],[3.09,2.77],[2.99,2.68],[2.88,2.50],[2.69,2.27],[2.52,2.23],[2.40,2.08],[2.25,1.98],[2.11,1.86],[1.96,1.76],[1.81,1.66],[1.72,1.57]];
const points20Inorganic = [[4.02,4.25],[3.88,4.23],[3.98,4.15],[3.73,4.12],[3.87,4.12],[3.90,4.05],[3.82,4.03],[3.81,4.0],[3.42,3.98],[3.54,3.99],[3.74,3.92],[3.72,3.90],[3.65,3.83],[3.39,3.87],[3.22,3.77],[3.19,3.69],[2.82,3.63],[3.27,3.64],[3.30,3.63],[3.33,3.61],[3.26,3.56],[3.30,3.54],[3.41,3.54],[3.44,3.53],[3.55,3.58],[3.61,3.50],[2.58,3.48],[2.36,3.46],[2.71,3.45],[2.73,3.43],[2.79,3.42],[2.99,3.45],[3.02,3.44],[3.15,3.43],[3.21,3.45],[3.26,3.47],[3.28,3.45],[3.25,3.41],[3.09,3.40],[3.03,3.36],[3.09,3.38],[3.15,3.37],[2.90,3.32],[3.00,3.32],[3.07,3.33],[3.23,3.33],[3.38,3.33],[2.85,3.30],[2.93,3.27],[3.0,3.27],[2.79,3.26],[2.68,3.26],[3.35,3.26],[3.44,3.22],[2.62,3.20],[2.67,3.19],[2.76,3.19],[2.84,3.22],[2.53,3.14],[2.72,3.13],[2.78,3.15],[2.48,3.08],[2.62,3.06],[2.76,3.09],[3.32,3.09],[3.28,3.07],[2.49,3.01],[2.55,3.0],[3.51,2.97],[3.37,2.95],[3.25,2.99],[2.41,2.97],[2.16,2.97],[2.14,2.92],[2.41,2.92],[2.46,2.91],[2.24,2.88],[3.35,2.87],[3.26,2.87],[3.30,2.82],[3.22,2.79],[3.17,2.76],[3.26,2.72],[2.43,2.83],[2.28,2.81],[1.64,2.78],[2.34,2.76],[2.42,2.73],[2.27,2.71],[2.16,2.71],[3.11,2.69],[3.18,2.65],[3.12,2.64],[2.25,2.65],[2.18,2.64],[2.11,2.63],[2.33,2.63],[3.03,2.62],[3.21,2.60],[3.17,2.59],[1.88,2.56],[2.20,2.57],[2.10,2.55],[2.97,2.57],[3.09,2.55],[3.07,2.51],[3.02,2.51],[2.92,2.50],[2.11,2.50],[1.73,2.48],[2.21,2.51],[3.17,2.48],[3.08,2.47],[2.87,2.41],[2.94,2.39],[2.78,2.39],[2.82,2.35],[3.14,2.34],[3.09,2.30],[1.96,2.37],[2.05,2.36],[2.03,2.33],[1.96,2.32],[1.96,2.28],[2.79,2.26],[2.89,2.25],[2.95,2.24],[1.69,2.24],[1.72,2.25],[1.74,2.22],[1.83,2.24],[1.87,2.26],[1.88,2.23],[1.96,2.22],[1.94,2.19],[2.74,2.19],[2.67,2.22],[1.77,2.13],[1.84,2.14],[1.88,2.12],[1.94,2.11],[1.85,2.09],[2.58,2.14],[2.85,2.15],[2.72,2.14],[2.63,2.15],[2.66,2.10],[2.58,2.09],[2.50,2.14],[2.45,2.11],[1.53,2.03],[1.82,2.0],[2.78,2.05],[2.73,2.03],[2.69,1.99],[2.80,1.97],[2.43,2.05],[2.42,2.02],[2.35,2.01],[1.70,1.95],[1.76,1.97],[1.80,1.95],[2.71,1.94],[2.73,1.89],[2.79,1.88],[2.82,1.88],[2.37,1.94],[2.28,1.94],[1.76,1.90],[1.81,1.89],[1.61,1.86],[1.65,1.83],[1.57,1.80],[2.41,1.84],[2.44,1.83],[2.23,1.83],[2.15,1.84],[1.67,1.81],[1.74,1.81],[2.72,1.80],[2.72,1.78],[1.50,1.76],[1.67,1.75],[1.62,1.73],[2.02,1.77],[2.13,1.76],[2.18,1.74],[2.20,1.74],[2.75,1.74],[1.81,1.73],[1.89,1.74],[1.95,1.75],[2.37,1.71],[1.55,1.70],[2.09,1.69],[2.72,1.70],[1.95,1.68],[1.87,1.68],[1.54,1.66],[1.62,1.67],[1.75,1.62],[1.82,1.62],[1.55,1.61],[1.96,1.61],[2.07,1.60],[2.02,1.60],[1.69,1.58],[1.87,1.57],[2.04,1.57],[1.49,1.58],[1.43,1.55],[1.50,1.57],[2.73,1.56],[2.75,1.56],[1.78,1.55],[1.81,1.54],[1.63,1.55],[1.55,1.51],[1.98,1.52],[1.47,1.50],[1.82,1.46],[1.71,1.35],[1.65,1.30],[2.12,1.32],[2.11,1.27]];
const fringe20Inorganic = [[1.72,1.90],[1.80,2.02],[1.85,2.16],[1.92,2.28],[2.02,2.28],[2.08,2.45],[2.18,2.55],[2.30,2.62],[2.35,2.72],[2.42,2.80],[2.52,2.95],[2.60,3.02],[2.70,3.05],[2.82,3.12],[2.90,3.2],[3.05,3.25],[3.15,3.28],[3.25,3.12],[3.23,2.95],[3.12,2.72],[3.03,2.68],[2.96,2.52],[2.88,2.40],[2.72,2.22],[2.62,2.18],[2.48,2.10],[2.35,1.92],[2.22,1.88],[2.12,1.78],[2.02,1.66],[1.90,1.62],[1.78,1.58],[1.66,1.62],[1.62,1.75],[1.70,1.62],[1.58,1.60],[1.72,1.78]];

const columnOrigin = [400, 1134, 1867.5, 2602];
const rowOrigin = [772.5, 1562];
const pxPerDecadeX = 188;
const pxPerDecadeY = 202;
function xScale(col, v) { return columnOrigin[col] + (v - 1) * pxPerDecadeX; }
function yScale(row, v) { return rowOrigin[row] - (v - 1) * pxPerDecadeY; }

const panels = [
  {name:'internal-kappa-dd',row:0,col:0,color:'#FF4040',core:coreInternalDd,points:pointsInternalDd.concat(fringeInternalDd),lx:1026,ly:124,top:45},
  {name:'external-kappa-dd',row:0,col:1,color:'#FFC22D',core:coreExternalDd,points:pointsExternalDd.concat(fringeExternalDd),lx:1763,ly:133.5,top:69},
  {name:'pure-inorganic',row:0,col:2,color:'#9E9E00',core:corePureInorganic,points:pointsPureInorganic.concat(fringePureInorganic),lx:2516,ly:102,top:69},
  {name:'50-inorganic',row:0,col:3,color:'#0088D1',core:core50Inorganic,points:points50Inorganic.concat(fringe50Inorganic),lx:3247,ly:117.5,top:69},
  {name:'internal-kappa-not-dd',row:1,col:0,color:'#FF8040',core:coreInternalNotDd,points:pointsInternalNotDd.concat(fringeInternalNotDd),lx:1021,ly:913,top:834},
  {name:'external-kappa-not-dd',row:1,col:1,color:'#CCCC00',core:coreExternalNotDd,points:pointsExternalNotDd.concat(fringeExternalNotDd),lx:1763,ly:902,top:858},
  {name:'80-inorganic',row:1,col:2,color:'#00BFFF',core:core80Inorganic,points:points80Inorganic.concat(fringe80Inorganic),lx:2490,ly:868,top:858},
  {name:'20-inorganic',row:1,col:3,color:'#00669C',core:core20Inorganic,points:points20Inorganic.concat(fringe20Inorganic),lx:3237,ly:896,top:858}
];

const NS = 'http://www.w3.org/2000/svg';
function make(tag, parent, attrs) {
  const el = document.createElementNS(NS, tag);
  for (const k in attrs) el.setAttribute(k, attrs[k]);
  parent.appendChild(el);
  return el;
}
const gridG = document.getElementById('grid');
const marksG = document.getElementById('marks');
const axesG = document.getElementById('axes');
const labelsG = document.getElementById('labels');
const gridStyle = {stroke:'#e8e8e8','stroke-width':2.5,'stroke-dasharray':'9 7'};
const axisStyle = {stroke:'#000','stroke-width':7.5};

// gridlines
rowOrigin.forEach(function (ry, row) {
  tickExponents.forEach(function (t) {
    const el = make('line', gridG, Object.assign({x1:400,x2:3275,y1:yScale(row,t),y2:yScale(row,t)}, gridStyle));
    
    
  });
});
columnOrigin.forEach(function (cx, col) {
  tickExponents.forEach(function (t) {
    const el = make('line', gridG, Object.assign({x1:xScale(col,t),x2:xScale(col,t),y1:43,y2:1562}, gridStyle));
    
    
  });
});

// panels
panels.forEach(function (p) {
  const g = make('g', marksG, {});
  
  

  const corePts = p.core.map(function (d) { return xScale(p.col, d[0]).toFixed(1) + ',' + yScale(p.row, d[1]).toFixed(1); }).join(' ');
  const poly = make('polygon', g, {points:corePts, fill:p.color, stroke:p.color, 'stroke-width':2});
  
  

  p.points.forEach(function (d) {
    const r = make('rect', g, {x:(xScale(p.col, d[0]) - 4).toFixed(1), y:(yScale(p.row, d[1]) - 4).toFixed(1), width:8, height:8, fill:p.color, 'shape-rendering':'crispEdges'});
    
    
  });

  const ln = make('line', g, {x1:xScale(p.col, oneToOne[0]), y1:yScale(p.row, oneToOne[0]), x2:xScale(p.col, oneToOne[1]), y2:yScale(p.row, oneToOne[1]), stroke:'#000', 'stroke-width':9});
  
  

  const box = make('rect', g, {x:p.lx - 4, y:p.ly - 52, width:92, height:67, fill:'#fff'});
  
  

  const lab = make('text', g, {x:p.lx, y:p.ly, 'font-size':56});
  lab.textContent = '1:1';
  
  

  // axes
  const ry = rowOrigin[p.row];
  const xo = columnOrigin[p.col];
  const yAxis = make('line', axesG, Object.assign({x1:xo,x2:xo,y1:p.top,y2:p.row === 0 ? ry + 3.5 : 1616}, axisStyle));
  
  

  const xAxis = make('line', axesG, Object.assign({x1:p.col === 0 ? 345 : xo,x2:xo + (p.row === 0 ? 652 : 675),y1:ry,y2:ry}, axisStyle));
  
  

  if (p.col === 0) {
    tickExponents.forEach(function (t) {
      const y = yScale(p.row, t);
      const tk = make('line', axesG, Object.assign({x1:345,x2:xo,y1:y,y2:y}, axisStyle));
      
      
      const a = make('text', labelsG, {x:219, y:y + 35.5, 'font-size':65});
      a.textContent = '10';
      
      
      const b = make('text', labelsG, {x:292, y:y - 7.5, 'font-size':46});
      b.textContent = String(t);
      
      
    });
  }
  if (p.row === 1) {
    tickExponents.forEach(function (t) {
      const x = xScale(p.col, t);
      const tk = make('line', axesG, Object.assign({x1:x,x2:x,y1:1558,y2:1616}, axisStyle));
      
      
      const a = make('text', labelsG, {x:x - 49.5, y:1730, 'font-size':65});
      a.textContent = '10';
      
      
      const b = make('text', labelsG, {x:x + 24, y:1687, 'font-size':46});
      b.textContent = String(t);
      
      
    });
  }
});
</script>
</body>
</html>
